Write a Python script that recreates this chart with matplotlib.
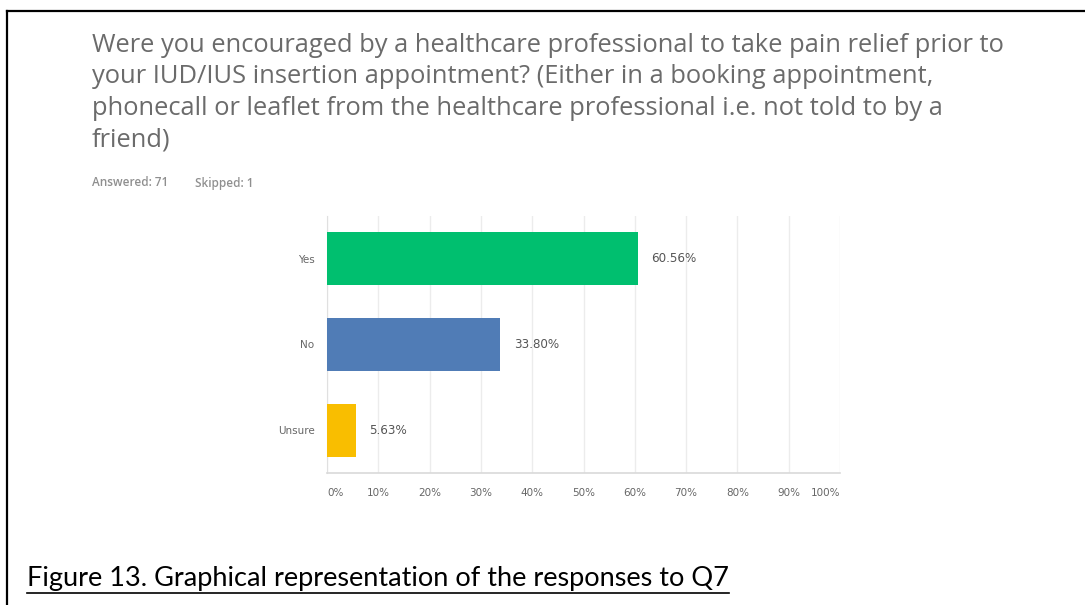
import matplotlib
matplotlib.use("Agg")
import matplotlib.pyplot as plt
from matplotlib.lines import Line2D
from matplotlib.ticker import FuncFormatter

# survey responses (percent of respondents)
answers = ["Yes", "No", "Unsure"]
shares = [60.56, 33.80, 5.63]
bar_colors = ["#00bf6f", "#507cb6", "#f9be00"]
x_ticks = [0, 10, 20, 30, 40, 50, 60, 70, 80, 90, 100]

question = (
    "Were you encouraged by a healthcare professional to take pain relief prior to\n"
    "your IUD/IUS insertion appointment? (Either in a booking appointment,\n"
    "phonecall or leaflet from the healthcare professional i.e. not told to by a\n"
    "friend)"
)
answered, skipped = 71, 1
caption = "Figure 13. Graphical representation of the responses to Q7"

W, H = 1085, 605
fig = plt.figure(figsize=(W / 100, H / 100), dpi=100)
fig.patch.set_facecolor("white")

# document frame (top and left edges visible)
fig.add_artist(Line2D([7 / W, 1.0], [1 - 11 / H, 1 - 11 / H], color="black", lw=1.6))
fig.add_artist(Line2D([7 / W, 7 / W], [0.0, 1 - 11 / H], color="black", lw=1.6))

fig.text(92 / W, 1 - 33 / H, question, ha="left", va="top", fontsize=18.4,
         family="Open Sans", color="#6b6b6b", linespacing=1.34)
fig.text(92 / W, 1 - 183 / H, f"Answered: {answered}", ha="left", va="center",
         fontsize=8.5, family="Open Sans", weight="semibold", color="#8f8f8f")
fig.text(195 / W, 1 - 183 / H, f"Skipped: {skipped}", ha="left", va="center",
         fontsize=8.5, family="Open Sans", weight="semibold", color="#8f8f8f")

ax = fig.add_axes([327 / W, 1 - 473 / H, (840 - 327) / W, (473 - 216) / H])
ypos = list(range(len(answers)))
ax.barh(ypos, shares, height=0.62, color=bar_colors, zorder=3)
ax.set_xlim(0, 100)
ax.set_ylim(len(answers) - 0.5, -0.5)
ax.set_yticks(ypos)
ax.set_yticklabels(answers)
ax.set_xticks(x_ticks)
ax.xaxis.set_major_formatter(FuncFormatter(lambda v, _: f"{v:.0f}%"))
ax.tick_params(axis="both", length=0, labelsize=7.5, labelcolor="#666666")
ax.tick_params(axis="x", pad=11)
ax.tick_params(axis="y", pad=9)
xlabels = ax.get_xticklabels()
xlabels[0].set_ha("left")
xlabels[-1].set_ha("right")
ax.grid(axis="x", color="#ececec", lw=1, zorder=0)
for side in ("top", "right"):
    ax.spines[side].set_visible(False)
ax.spines["bottom"].set_color("#d9d9d9")
ax.spines["bottom"].set_linewidth(1.2)
ax.spines["left"].set_color("#e0e0e0")

for y, v in zip(ypos, shares):
    ax.text(v + 2.6, y, f"{v:.2f}%", va="center", ha="left", fontsize=8.6,
            color="#555555", weight="medium", zorder=4)

cap = fig.text(27 / W, 1 - 586 / H, caption, ha="left", va="baseline",
               fontsize=19.5, family="Lato", color="black")
fig.canvas.draw()
bb = cap.get_window_extent(renderer=fig.canvas.get_renderer())
uy = (bb.y0 - 2) / H
fig.add_artist(Line2D([bb.x0 / W, bb.x1 / W], [uy, uy], color="black", lw=1.2))

fig.savefig("out.png", dpi=100)
